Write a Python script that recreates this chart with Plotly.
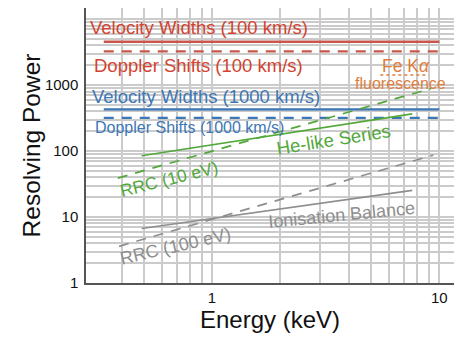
import numpy as np
import plotly.graph_objects as go

# Resolving-power requirements versus photon energy (keV)
vw100_energy = [0.334, 10.0]
vw100_power = [4550, 4550]
ds100_energy = [0.334, 10.0]
ds100_power = [3250, 3250]
vw1000_energy = [0.334, 10.0]
vw1000_power = [430, 430]
ds1000_energy = [0.334, 10.0]
ds1000_power = [318, 318]
helike_energy = [0.49, 7.6]
helike_power = [85, 366]
rrc10_energy = [0.385, 9.2]
rrc10_power = [39, 890]
ionbal_energy = [0.49, 7.6]
ionbal_power = [6.7, 25.4]
rrc100_energy = [0.39, 9.4]
rrc100_power = [3.6, 87]
fe_ka_energy = [5.5, 8.95]
fe_ka_power = [1422, 1422]

x_tick_vals = [1, 10]
x_tick_text = ["1", "10"]
y_tick_vals = [1, 10, 100, 1000]
y_tick_text = ["1", "10", "100", "1000"]

RED = "#d3432f"
RED_LINE = "#c8564a"
BLUE = "#3d77b6"
GREEN = "#52a83a"
GRAY = "#8e8e8e"
ORANGE = "#e07d3c"
GRID = "#cbcbcb"
FONT = "Liberation Sans, Arial, Helvetica, sans-serif"
DASH = "10px,8px"

fig = go.Figure()


def add_line(x, y, color, dash="solid", width=2):
    fig.add_trace(go.Scatter(
        x=x, y=y, mode="lines", showlegend=False, hoverinfo="skip",
        line=dict(color=color, width=width, dash=dash),
    ))


add_line(vw100_energy, vw100_power, RED_LINE, width=2.5)
add_line(ds100_energy, ds100_power, RED_LINE, DASH, width=2.2)
add_line(vw1000_energy, vw1000_power, BLUE, width=2.2)
add_line(ds1000_energy, ds1000_power, BLUE, DASH, width=2.2)
add_line(helike_energy, helike_power, GREEN, width=1.7)
add_line(rrc10_energy, rrc10_power, GREEN, DASH, width=1.7)
add_line(ionbal_energy, ionbal_power, GRAY, width=1.7)
add_line(rrc100_energy, rrc100_power, GRAY, DASH, width=1.7)
add_line(fe_ka_energy, fe_ka_power, ORANGE, "dot", width=1.5)


def label(text, x, y, color, size=18.5, angle=0, xanchor="center"):
    # annotation coordinates on log axes are given in log10 units
    fig.add_annotation(
        x=x, y=y, xref="x", yref="y", text=text, showarrow=False,
        textangle=angle, xanchor=xanchor, yanchor="middle",
        font=dict(family=FONT, size=size, color=color),
    )


label("Velocity Widths (100 km/s)", -0.546, 3.868, RED, xanchor="left")
label("Doppler Shifts (100 km/s)", -0.529, 3.298, RED, xanchor="left")
label("Velocity Widths (1000 km/s)", -0.537, 2.834, BLUE, xanchor="left")
label("Doppler Shifts (1000 km/s)", -0.524, 2.354, BLUE, size=16, xanchor="left")
label("Fe K<i>α</i>", 0.855, 3.298, ORANGE, size=17.5)
label("fluorescence", 0.828, 3.028, ORANGE, size=16)
label("He-like Series", 0.533, 2.174, GREEN, angle=-9)
label("RRC (10 eV)", -0.189, 1.574, GREEN, size=17.5, angle=-14)
label("Ionisation Balance", 0.568, 1.034, GRAY, size=18, angle=-5.5)
label("RRC (100 eV)", -0.159, 0.555, GRAY, size=18, angle=-13)

# y-axis title placed as a rotated paper-referenced annotation
fig.add_annotation(
    x=-0.147, y=0.5, xref="paper", yref="paper", text="Resolving Power",
    showarrow=False, textangle=-90, xanchor="center", yanchor="middle",
    font=dict(family=FONT, size=24.5, color="#111111"),
)

x_minor = [0.4, 0.5, 0.6, 0.7, 0.8, 0.9, 2, 3, 4, 5, 6, 7, 8, 9]
y_minor = [m * d for d in (1, 10, 100, 1000) for m in range(2, 10)] + [10000]

fig.update_xaxes(
    type="log", range=[np.log10(0.279), np.log10(11.6)],
    tickmode="array", tickvals=x_tick_vals, ticktext=x_tick_text,
    showgrid=True, gridcolor=GRID, gridwidth=1.5,
    minor=dict(tickmode="array", tickvals=x_minor, showgrid=True,
               gridcolor=GRID, gridwidth=1.5, ticks=""),
    showline=True, linecolor="#555555", linewidth=1.5, ticks="",
    zeroline=False,
    tickfont=dict(family=FONT, size=15, color="#111111"),
    title=dict(text="Energy (keV)", standoff=6,
               font=dict(family=FONT, size=24, color="#111111")),
)
fig.update_yaxes(
    type="log", range=[0, 4.17],
    tickmode="array", tickvals=y_tick_vals, ticktext=y_tick_text,
    showgrid=True, gridcolor=GRID, gridwidth=1.5,
    minor=dict(tickmode="array", tickvals=y_minor, showgrid=True,
               gridcolor=GRID, gridwidth=1.5, ticks=""),
    showline=True, linecolor="#555555", linewidth=1.5, ticks="",
    zeroline=False, ticklabelstandoff=3,
    tickfont=dict(family=FONT, size=15, color="#111111"),
)

fig.update_layout(
    width=468, height=337,
    margin=dict(l=86, r=14, t=8, b=51),
    plot_bgcolor="white", paper_bgcolor="white",
    showlegend=False,
)

fig.write_html("out.html")
